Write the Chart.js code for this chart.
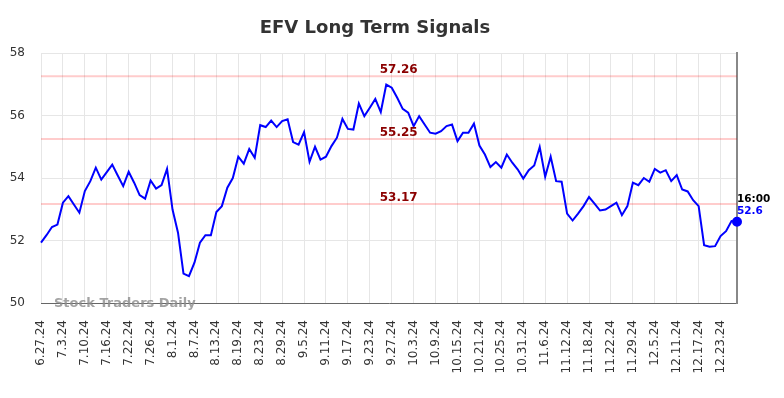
<!DOCTYPE html>
<html>
<head>
<meta charset="utf-8">
<title>EFV Long Term Signals</title>
<script src="https://cdn.jsdelivr.net/npm/chart.js@4.4.0/dist/chart.umd.min.js"></script>
<style>
  html, body { margin: 0; padding: 0; background: #fff; }
  #wrap { width: 784px; height: 398px; }
</style>
</head>
<body>
<div id="wrap"><canvas id="myChart" width="784" height="398"></canvas></div>
<script>
// tick labels, one every 4 trading days
const tickLabels = ['6.27.24', '7.3.24', '7.10.24', '7.16.24', '7.22.24', '7.26.24', '8.1.24', '8.7.24',
  '8.13.24', '8.19.24', '8.23.24', '8.29.24', '9.5.24', '9.11.24', '9.17.24', '9.23.24',
  '9.27.24', '10.3.24', '10.9.24', '10.15.24', '10.21.24', '10.25.24', '10.31.24', '11.6.24',
  '11.12.24', '11.18.24', '11.22.24', '11.29.24', '12.5.24', '12.11.24', '12.17.24', '12.23.24'];

// daily closes
const prices = [
  51.93, 52.17, 52.43, 52.51, 53.21, 53.42, 53.15, 52.89, 53.58, 53.90,
  54.33, 53.95, 54.19, 54.43, 54.08, 53.74, 54.20, 53.85, 53.45, 53.34,
  53.92, 53.66, 53.77, 54.29, 52.99, 52.25, 50.94, 50.86, 51.29, 51.93,
  52.17, 52.17, 52.91, 53.10, 53.69, 54.00, 54.68, 54.46, 54.93, 54.65,
  55.69, 55.63, 55.84, 55.63, 55.82, 55.88, 55.15, 55.07, 55.47, 54.52,
  55.00, 54.59, 54.68, 55.02, 55.29, 55.89, 55.57, 55.55, 56.38, 55.98,
  56.25, 56.53, 56.11, 56.99, 56.89, 56.57, 56.21, 56.09, 55.66, 55.98,
  55.71, 55.45, 55.42, 55.50, 55.66, 55.71, 55.18, 55.45, 55.45, 55.74,
  55.04, 54.75, 54.35, 54.51, 54.33, 54.75, 54.49, 54.27, 53.98, 54.25,
  54.40, 54.99, 54.04, 54.68, 53.90, 53.88, 52.86, 52.64, 52.86, 53.10,
  53.39, 53.18, 52.96, 52.99, 53.10, 53.21, 52.81, 53.10, 53.85, 53.77,
  54.00, 53.88, 54.29, 54.17, 54.25, 53.90, 54.09, 53.63, 53.57, 53.29,
  53.10, 51.85, 51.80, 51.82, 52.14, 52.30, 52.62, 52.60
];

// signal levels
const signalLevels = [57.26, 55.25, 53.17];

const lastTime = '16:00';
const lastIdx = prices.length - 1;

// category labels: only every 4th day gets a text
let categories = prices.map((p, i) => (i % 4 === 0 ? tickLabels[i / 4] : ''));

const FONT = 'DejaVu Sans';

const extras = {
  id: 'extras',
  beforeDraw(chart) {
    const ctx = chart.ctx;
    ctx.save();
    ctx.fillStyle = '#fff';
    ctx.fillRect(0, 0, chart.width, chart.height);
    // title
    ctx.fillStyle = '#333';
    ctx.font = 'bold 18px "' + FONT + '"';
    ctx.textAlign = 'center';
    ctx.textBaseline = 'alphabetic';
    ctx.fillText('EFV Long Term Signals', 375, 33);
    ctx.restore();
  },
  beforeDatasetsDraw(chart) {
    const ctx = chart.ctx;
    const area = chart.chartArea;
    const y = chart.scales.y;
    ctx.save();
    ctx.strokeStyle = 'rgba(255,0,0,0.2)';
    ctx.lineWidth = 2;
    signalLevels.forEach((lv) => {
      let py = y.getPixelForValue(lv);
      ctx.beginPath();
      ctx.moveTo(area.left, py);
      ctx.lineTo(area.right, py);
      ctx.stroke();
    });
    // watermark
    ctx.fillStyle = 'rgba(140,140,140,0.8)';
    ctx.font = 'bold 13px "' + FONT + '"';
    ctx.textAlign = 'left';
    ctx.fillText('Stock Traders Daily', area.left + 13, area.bottom + 4);
    ctx.restore();
  },
  afterDatasetsDraw(chart) {
    const ctx = chart.ctx;
    const area = chart.chartArea;
    const y = chart.scales.y;
    ctx.save();
    ctx.fillStyle = '#8b0000';
    ctx.font = 'bold 12px "' + FONT + '"';
    ctx.textAlign = 'center';
    let lx = area.left + (area.right - area.left) * 0.514;
    signalLevels.forEach((lv) => {
      ctx.fillText(lv.toFixed(2), lx, y.getPixelForValue(lv) - 3);
    });
    // last point labels
    let pt = chart.getDatasetMeta(0).data[lastIdx];
    ctx.textAlign = 'left';
    ctx.font = 'bold 10.5px "' + FONT + '"';
    ctx.fillStyle = '#000';
    ctx.fillText(lastTime, pt.x, pt.y - 20);
    ctx.fillStyle = '#0000ff';
    ctx.fillText(String(prices[lastIdx]), pt.x, pt.y - 7.5);
    ctx.restore();
  }
};

const canvas = document.getElementById('myChart');
const myChart = new Chart(canvas.getContext('2d'), {
  type: 'line',
  data: {
    labels: categories,
    datasets: [{
      data: prices,
      borderColor: '#0000ff',
      backgroundColor: '#0000ff',
      borderWidth: 2,
      tension: 0,
      pointRadius: (c) => (c.dataIndex === lastIdx ? 4 : 0),
      pointHoverRadius: 0,
      fill: false
    }]
  },
  options: {
    responsive: false,
    animation: false,
    layout: { padding: { top: 53, right: 47, left: 0, bottom: 0 } },
    plugins: {
      legend: { display: false },
      title: { display: false },
      tooltip: { enabled: false }
    },
    scales: {
      x: {
        type: 'category',
        offset: false,
        afterFit(scale) { scale.height = 95; },
        grid: {
          color: (c) => (c.index % 4 === 0 ? '#e6e6e6' : 'rgba(0,0,0,0)'),
          drawTicks: false
        },
        border: { display: true, color: '#666', width: 1 },
        ticks: {
          autoSkip: false,
          minRotation: 90,
          maxRotation: 90,
          padding: 17,
          color: '#333',
          font: { family: FONT, size: 12 }
        }
      },
      y: {
        min: 50,
        max: 58,
        afterFit(scale) { scale.width = 41; },
        grid: { color: '#e6e6e6', drawTicks: false },
        border: { display: false },
        ticks: {
          stepSize: 2,
          padding: 16,
          color: '#333',
          font: { family: FONT, size: 12 }
        }
      },
      yRight: {
        position: 'right',
        min: 50,
        max: 58,
        afterFit(scale) { scale.width = 0; },
        grid: { drawOnChartArea: false, drawTicks: false },
        border: { display: true, color: '#888', width: 2 },
        ticks: { display: false }
      }
    }
  },
  plugins: [extras]
});
</script>
</body>
</html>
